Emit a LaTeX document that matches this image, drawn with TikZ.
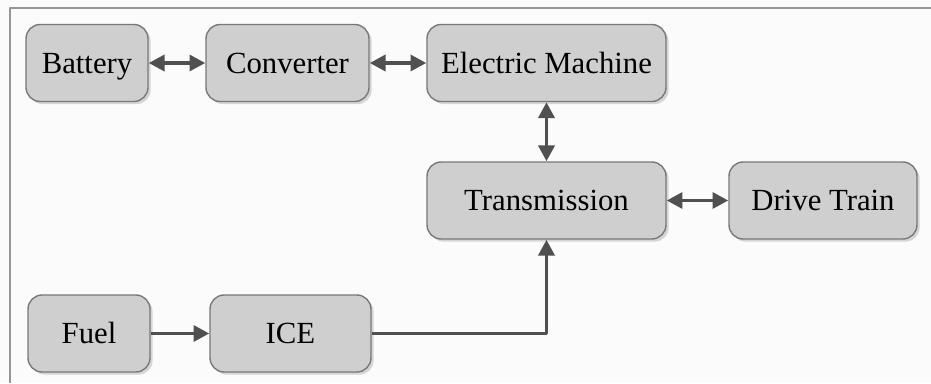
\documentclass[tikz,border=0pt]{standalone}
\usepackage{fontspec}
\setmainfont{Liberation Serif}
\usetikzlibrary{arrows.meta,shadows}
\definecolor{boxfill}{RGB}{207,207,207}
\definecolor{boxline}{RGB}{120,120,120}
\definecolor{arrowgray}{RGB}{80,80,80}
\definecolor{framegray}{RGB}{150,150,150}
\tikzset{
	blk/.style={draw=boxline, fill=boxfill, rounded corners=8pt, line width=0.8pt,
		minimum height=1.54cm, inner sep=0pt, text height=11.6pt, text depth=0pt,
		font=\fontsize{17.5}{21}\selectfont,
		drop shadow={shadow xshift=1.5pt, shadow yshift=-1.5pt, opacity=0.3}},
	link/.style={draw=arrowgray, line width=2.2pt}
}
\begin{document}
\begin{tikzpicture}[x=0.02cm, y=0.02cm, >={Triangle[length=9pt,width=9pt]}, line join=round]
	\useasboundingbox (0,0) rectangle (931,383);
	\fill[white!97!gray] (0,0) rectangle (931,383);
	\draw[framegray, line width=0.6pt] (931,375) -- (10,375) -- (10,0);
	% top row
	\node[blk, minimum width=2.44cm] (bat) at (87,320) {Battery};
	\node[blk, minimum width=3.26cm] (conv) at (287.5,320) {Converter};
	\node[blk, minimum width=4.78cm] (em) at (546.5,320) {Electric Machine};
	% middle row
	\node[blk, minimum width=4.78cm] (trans) at (546.5,182.5) {Transmission};
	\node[blk, minimum width=3.76cm] (drive) at (823,182.5) {Drive Train};
	% bottom row
	\node[blk, minimum width=2.44cm] (fuel) at (89,49.5) {Fuel};
	\node[blk, minimum width=3.22cm] (ice) at (290.5,49.5) {ICE};
	% links
	\draw[link,<->] (bat) -- (conv);
	\draw[link,<->] (conv) -- (em);
	\draw[link,<->] (em) -- (trans);
	\draw[link,<->] (trans) -- (drive);
	\draw[link,->] (fuel) -- (ice);
	\draw[link,->] (ice) -| (trans);
\end{tikzpicture}
\end{document}
